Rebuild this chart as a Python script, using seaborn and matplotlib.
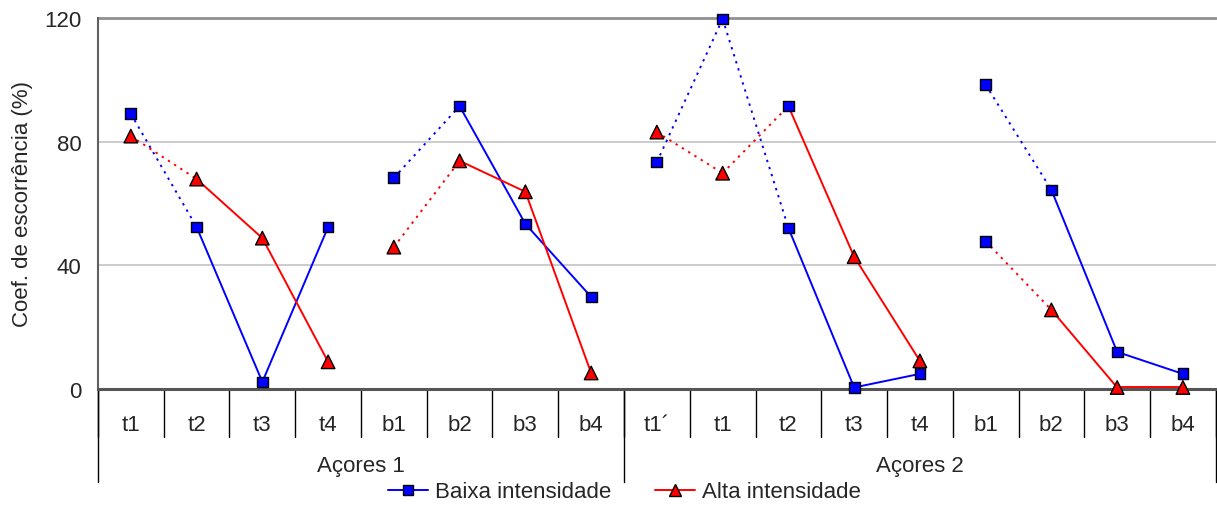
import matplotlib
matplotlib.use('Agg')
import matplotlib.pyplot as plt
import numpy as np
import pandas as pd
import seaborn as sns
from matplotlib.lines import Line2D

# categories (x axis) and groups
categories = ['t1', 't2', 't3', 't4', 'b1', 'b2', 'b3', 'b4',
              't1\u00b4', 't1', 't2', 't3', 't4', 'b1', 'b2', 'b3', 'b4']
groups = ['Açores 1', 'Açores 2']
group_sizes = [8, 9]

# series values (Coef. de escorrência, %)
baixa = [89.0, 52.4, 2.3, 52.4, 68.3, 91.5, 53.4, 29.8,
         73.4, 119.7, 52.1, 0.5, 4.9, 98.4, 64.4, 12.0, 4.9]
alta = [81.8, 67.9, 48.8, 8.8, 45.9, 73.8, 63.8, 5.2,
        83.1, 69.8, 91.5, 42.8, 9.1, 47.8, 25.6, 0.5, 0.5]

# how each point is joined to the next one (None = no line)
links = ['dot', 'solid', 'solid', None, 'dot', 'solid', 'solid', None,
         'dot', 'dot', 'solid', 'solid', None, 'dot', 'solid', 'solid']

# points of the "Alta" series drawn with the other series' marker in the original
alta_odd_markers = [10, 13]

series_names = ['Baixa intensidade', 'Alta intensidade']
colors = {'Baixa intensidade': '#0000ff', 'Alta intensidade': '#ff0000'}
markers = {'Baixa intensidade': 's', 'Alta intensidade': '^'}
msizes = {'Baixa intensidade': 60, 'Alta intensidade': 95}

# build segment table for seaborn
seg_rows = []
seg_id = 0
for name, vals in zip(series_names, [baixa, alta]):
    for i, link in enumerate(links):
        if link is None:
            continue
        for j in (i, i + 1):
            seg_rows.append({'x': j, 'y': vals[j], 'serie': name,
                             'link': link, 'seg': seg_id})
        seg_id += 1
segs = pd.DataFrame(seg_rows)

pts_rows = []
for name, vals in zip(series_names, [baixa, alta]):
    for i, v in enumerate(vals):
        mk = name
        if name == 'Alta intensidade' and i in alta_odd_markers:
            mk = 'Baixa intensidade'
        pts_rows.append({'x': i, 'y': v, 'mk': mk})
pts = pd.DataFrame(pts_rows)

sns.set_style('white')
plt.rcParams['font.family'] = ['Liberation Sans', 'DejaVu Sans']
plt.rcParams['font.size'] = 16

fig = plt.figure(figsize=(12.17, 5.06), dpi=100)
ax = fig.add_axes([0.0805, 0.2292, 0.9185, 0.7333])

sns.lineplot(data=segs, x='x', y='y', hue='serie', style='link', units='seg',
             estimator=None, palette=colors,
             dashes={'solid': '', 'dot': (1.2, 2.6)},
             linewidth=1.4, legend=False, ax=ax, sort=False)
sns.scatterplot(data=pts, x='x', y='y', hue='mk', style='mk', size='mk',
                palette=colors, markers=markers, sizes=msizes,
                edgecolor='black', linewidth=1.0, legend=False, ax=ax,
                zorder=5, clip_on=False)

n = len(categories)
ax.set_xlim(-0.5, n - 0.5)
ax.set_ylim(0, 120)
ax.set_yticks([0, 40, 80, 120])
ax.tick_params(axis='y', length=6, width=1.2, color='#606060', labelsize=16, pad=6)
ax.tick_params(axis='x', length=0, labelsize=16, pad=18)
ax.set_xticks(range(n))
ax.set_xticklabels(categories)
ax.set_xlabel('')
ax.set_ylabel('Coef. de escorrência (%)', fontsize=16, labelpad=8)

for y in [40, 80]:
    ax.axhline(y, color='#c8c8c8', linewidth=1.3, zorder=0)
ax.axhline(120, color='#909090', linewidth=2.0, zorder=0, clip_on=False)

for side in ['top', 'right']:
    ax.spines[side].set_visible(False)
ax.spines['left'].set_color('#606060')
ax.spines['left'].set_linewidth(1.5)
ax.spines['bottom'].set_color('#555555')
ax.spines['bottom'].set_linewidth(2.2)

# category separators and group separators below the axis
tr = ax.get_xaxis_transform()
for k in range(n + 1):
    ax.plot([k - 0.5, k - 0.5], [0, -0.13], transform=tr, color='black',
            linewidth=1.0, clip_on=False)
start = 0
bounds = [start]
for size in group_sizes:
    start += size
    bounds.append(start)
for b in bounds:
    ax.plot([b - 0.5, b - 0.5], [0, -0.25], transform=tr, color='black',
            linewidth=1.0, clip_on=False)
for g, a, b in zip(groups, bounds[:-1], bounds[1:]):
    ax.text((a + b - 1) / 2, -0.205, g, transform=tr, ha='center', va='center',
            fontsize=16)

handles = [Line2D([0], [0], color=colors[s], marker=markers[s],
                  markersize=7 if markers[s] == 's' else 8.5,
                  markerfacecolor=colors[s], markeredgecolor='black',
                  markeredgewidth=1.0, linewidth=1.4) for s in series_names]
fig.legend(handles, series_names, loc='center', bbox_to_anchor=(0.513, 0.026),
           ncol=2, frameon=False, fontsize=16, handlelength=1.8,
           handletextpad=0.3, columnspacing=2.0, borderpad=0)

fig.savefig('out.png', dpi=100)
